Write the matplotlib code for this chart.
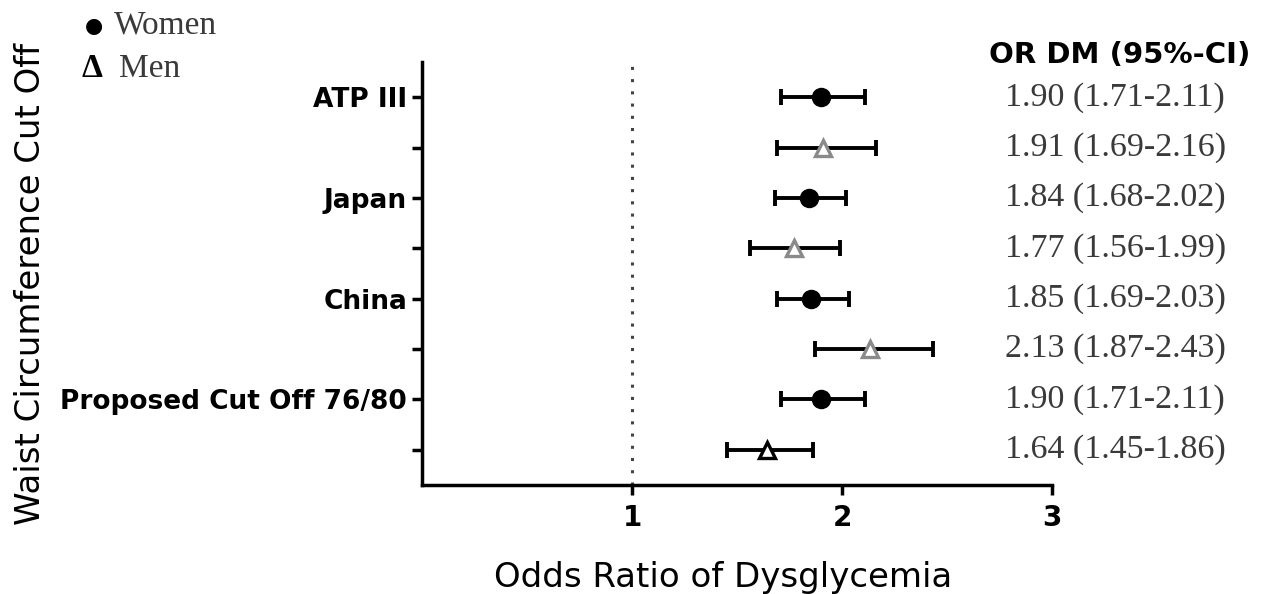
import matplotlib
matplotlib.use("Agg")
import matplotlib.pyplot as plt

# rows top to bottom: women / men alternating per cut-off definition
row_labels = ["ATP III", "", "Japan", "", "China", "", "Proposed Cut Off 76/80", ""]
sex = ["W", "M", "W", "M", "W", "M", "W", "M"]
odds = [1.90, 1.91, 1.84, 1.77, 1.85, 2.13, 1.90, 1.64]
ci_low = [1.71, 1.69, 1.68, 1.56, 1.69, 1.87, 1.71, 1.45]
ci_high = [2.11, 2.16, 2.02, 1.99, 2.03, 2.43, 2.11, 1.86]
marker_edge = ["black", "#8a8a8a", "black", "#8a8a8a", "black", "#8a8a8a", "black", "black"]

fig = plt.figure(figsize=(12.8, 5.94), dpi=100)
ax = fig.add_axes([0.33, 0.1835, 0.492, 0.712])

ys = list(range(1, len(odds) + 1))
for y, o, lo, hi, s, ec in zip(ys, odds, ci_low, ci_high, sex, marker_edge):
    ax.errorbar(o, y, xerr=[[o - lo], [hi - o]], fmt="none", ecolor="black",
                elinewidth=2.8, capsize=6, capthick=2.8, zorder=2)
    if s == "W":
        ax.plot(o, y, "o", ms=13, color="black", zorder=3)
    else:
        ax.plot(o, y, "^", ms=12, mfc="white", mec=ec, mew=2.4, zorder=3)
    ax.text(0.925, y, f"{o:.2f} ({lo:.2f}-{hi:.2f})", transform=ax.get_yaxis_transform(),
            ha="left", va="center", fontsize=24.5, family="Liberation Serif", color="#3a3a3a")

ax.axvline(1, color="#444444", ls=(0, (1, 3)), lw=2.2, zorder=1)

ax.set_xlim(0, 3)
ax.set_ylim(8.7, 0.3)
ax.set_xticks([1, 2, 3])
ax.set_xticklabels(["1", "2", "3"], fontsize=20, fontweight="bold", family="DejaVu Sans")
ax.set_yticks(ys)
ax.set_yticklabels(row_labels, fontsize=19, fontweight="bold", family="DejaVu Sans")
ax.tick_params(width=2.5, length=7, color="black", pad=4)
ax.tick_params(axis="x", pad=7)
for side in ["top", "right"]:
    ax.spines[side].set_visible(False)
for side in ["left", "bottom"]:
    ax.spines[side].set_linewidth(2.5)

fig.text(0.565, 0.027, "Odds Ratio of Dysglycemia", ha="center", va="center",
         fontsize=24.5, family="DejaVu Sans")
fig.text(0.024, 0.522, "Waist Circumference Cut Off", rotation=90, ha="center", va="center",
         fontsize=24.5, family="DejaVu Sans")

fig.text(0.875, 0.908, "OR DM (95%-CI)", ha="center", va="center", fontsize=21,
         fontweight="bold", family="DejaVu Sans")

# legend
fig.text(0.066, 0.957, "\u25cf", ha="left", va="center", fontsize=15, family="DejaVu Sans")
fig.text(0.089, 0.957, "Women", ha="left", va="center", fontsize=24,
         family="Liberation Serif", color="#3a3a3a")
fig.text(0.064, 0.884, "\u0394", ha="left", va="center", fontsize=24, fontweight="bold",
         family="Liberation Serif")
fig.text(0.093, 0.884, "Men", ha="left", va="center", fontsize=24,
         family="Liberation Serif", color="#3a3a3a")

fig.savefig("out.png", dpi=100)
